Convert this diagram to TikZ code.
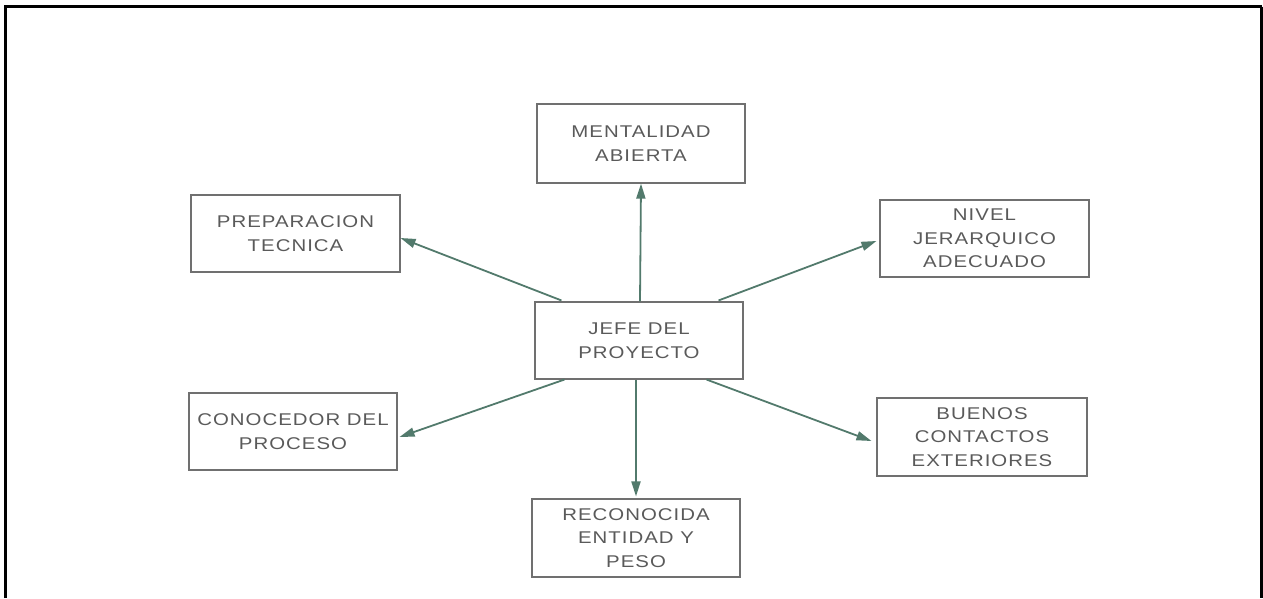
\documentclass[tikz,border=0pt]{standalone}
\usepackage{fontspec}
\setmainfont{Liberation Sans}[FakeStretch=1.2,LetterSpace=6]
\usetikzlibrary{arrows.meta,calc}
\definecolor{boxline}{HTML}{707070}
\definecolor{txtgray}{HTML}{5A5A5A}
\definecolor{arrowgreen}{HTML}{527A6C}
\tikzset{
  stepbox/.style={draw=boxline,line width=1.1pt,rectangle,inner sep=0pt,
    align=center,text=txtgray,font=\fontsize{17}{23.5}\selectfont},
  link/.style={draw=arrowgreen,line width=1.8pt,
    -{Triangle[length=15pt,width=9pt]}}
}
\begin{document}
\begin{tikzpicture}[x=1pt,y=1pt]
\useasboundingbox (0,0) rectangle (1263,-598);
\draw[line width=3pt] (5.5,-598) -- (5.5,-6.5) -- (1261.5,-6.5);
\draw[line width=2.2pt] (1261.5,-6.5) -- (1261.5,-598);

\node[stepbox,minimum width=208pt,minimum height=79pt] (mental) at (641,-143.5) {MENTALIDAD\\ABIERTA};
\node[stepbox,minimum width=209pt,minimum height=77pt] (prep) at (295.5,-233.5) {PREPARACION\\TECNICA};
\node[stepbox,minimum width=208pt,minimum height=77pt] (jefe) at (639,-340.5) {JEFE DEL\\PROYECTO};
\node[stepbox,minimum width=209pt,minimum height=77pt] (nivel) at (984.5,-238.5) {NIVEL\\JERARQUICO\\ADECUADO};
\node[stepbox,minimum width=208pt,minimum height=77pt] (cono) at (293,-431.5) {CONOCEDOR DEL\\PROCESO};
\node[stepbox,minimum width=208pt,minimum height=78pt] (recon) at (636,-538) {RECONOCIDA\\ENTIDAD Y\\PESO};
\node[stepbox,minimum width=210pt,minimum height=78pt] (buenos) at (982,-437) {BUENOS\\CONTACTOS\\EXTERIORES};

\draw[link] ($(jefe.north)+(1,0)$) -- (mental.south);
\draw[link] ($(jefe.north west)+(27,1)$) -- ($(prep.east)+(0,-4.5)$);
\draw[link] ($(jefe.north east)+(-25,1)$) -- ($(nivel.west)+(-3,-2.5)$);
\draw[link] ($(jefe.south west)+(30,0)$) -- ($(cono.east)+(2,-5.5)$);
\draw[link] ($(jefe.south)+(-3,0)$) -- ($(recon.north)+(0,2)$);
\draw[link] ($(jefe.south east)+(-37,0)$) -- ($(buenos.west)+(-5,-4)$);
\end{tikzpicture}
\end{document}
